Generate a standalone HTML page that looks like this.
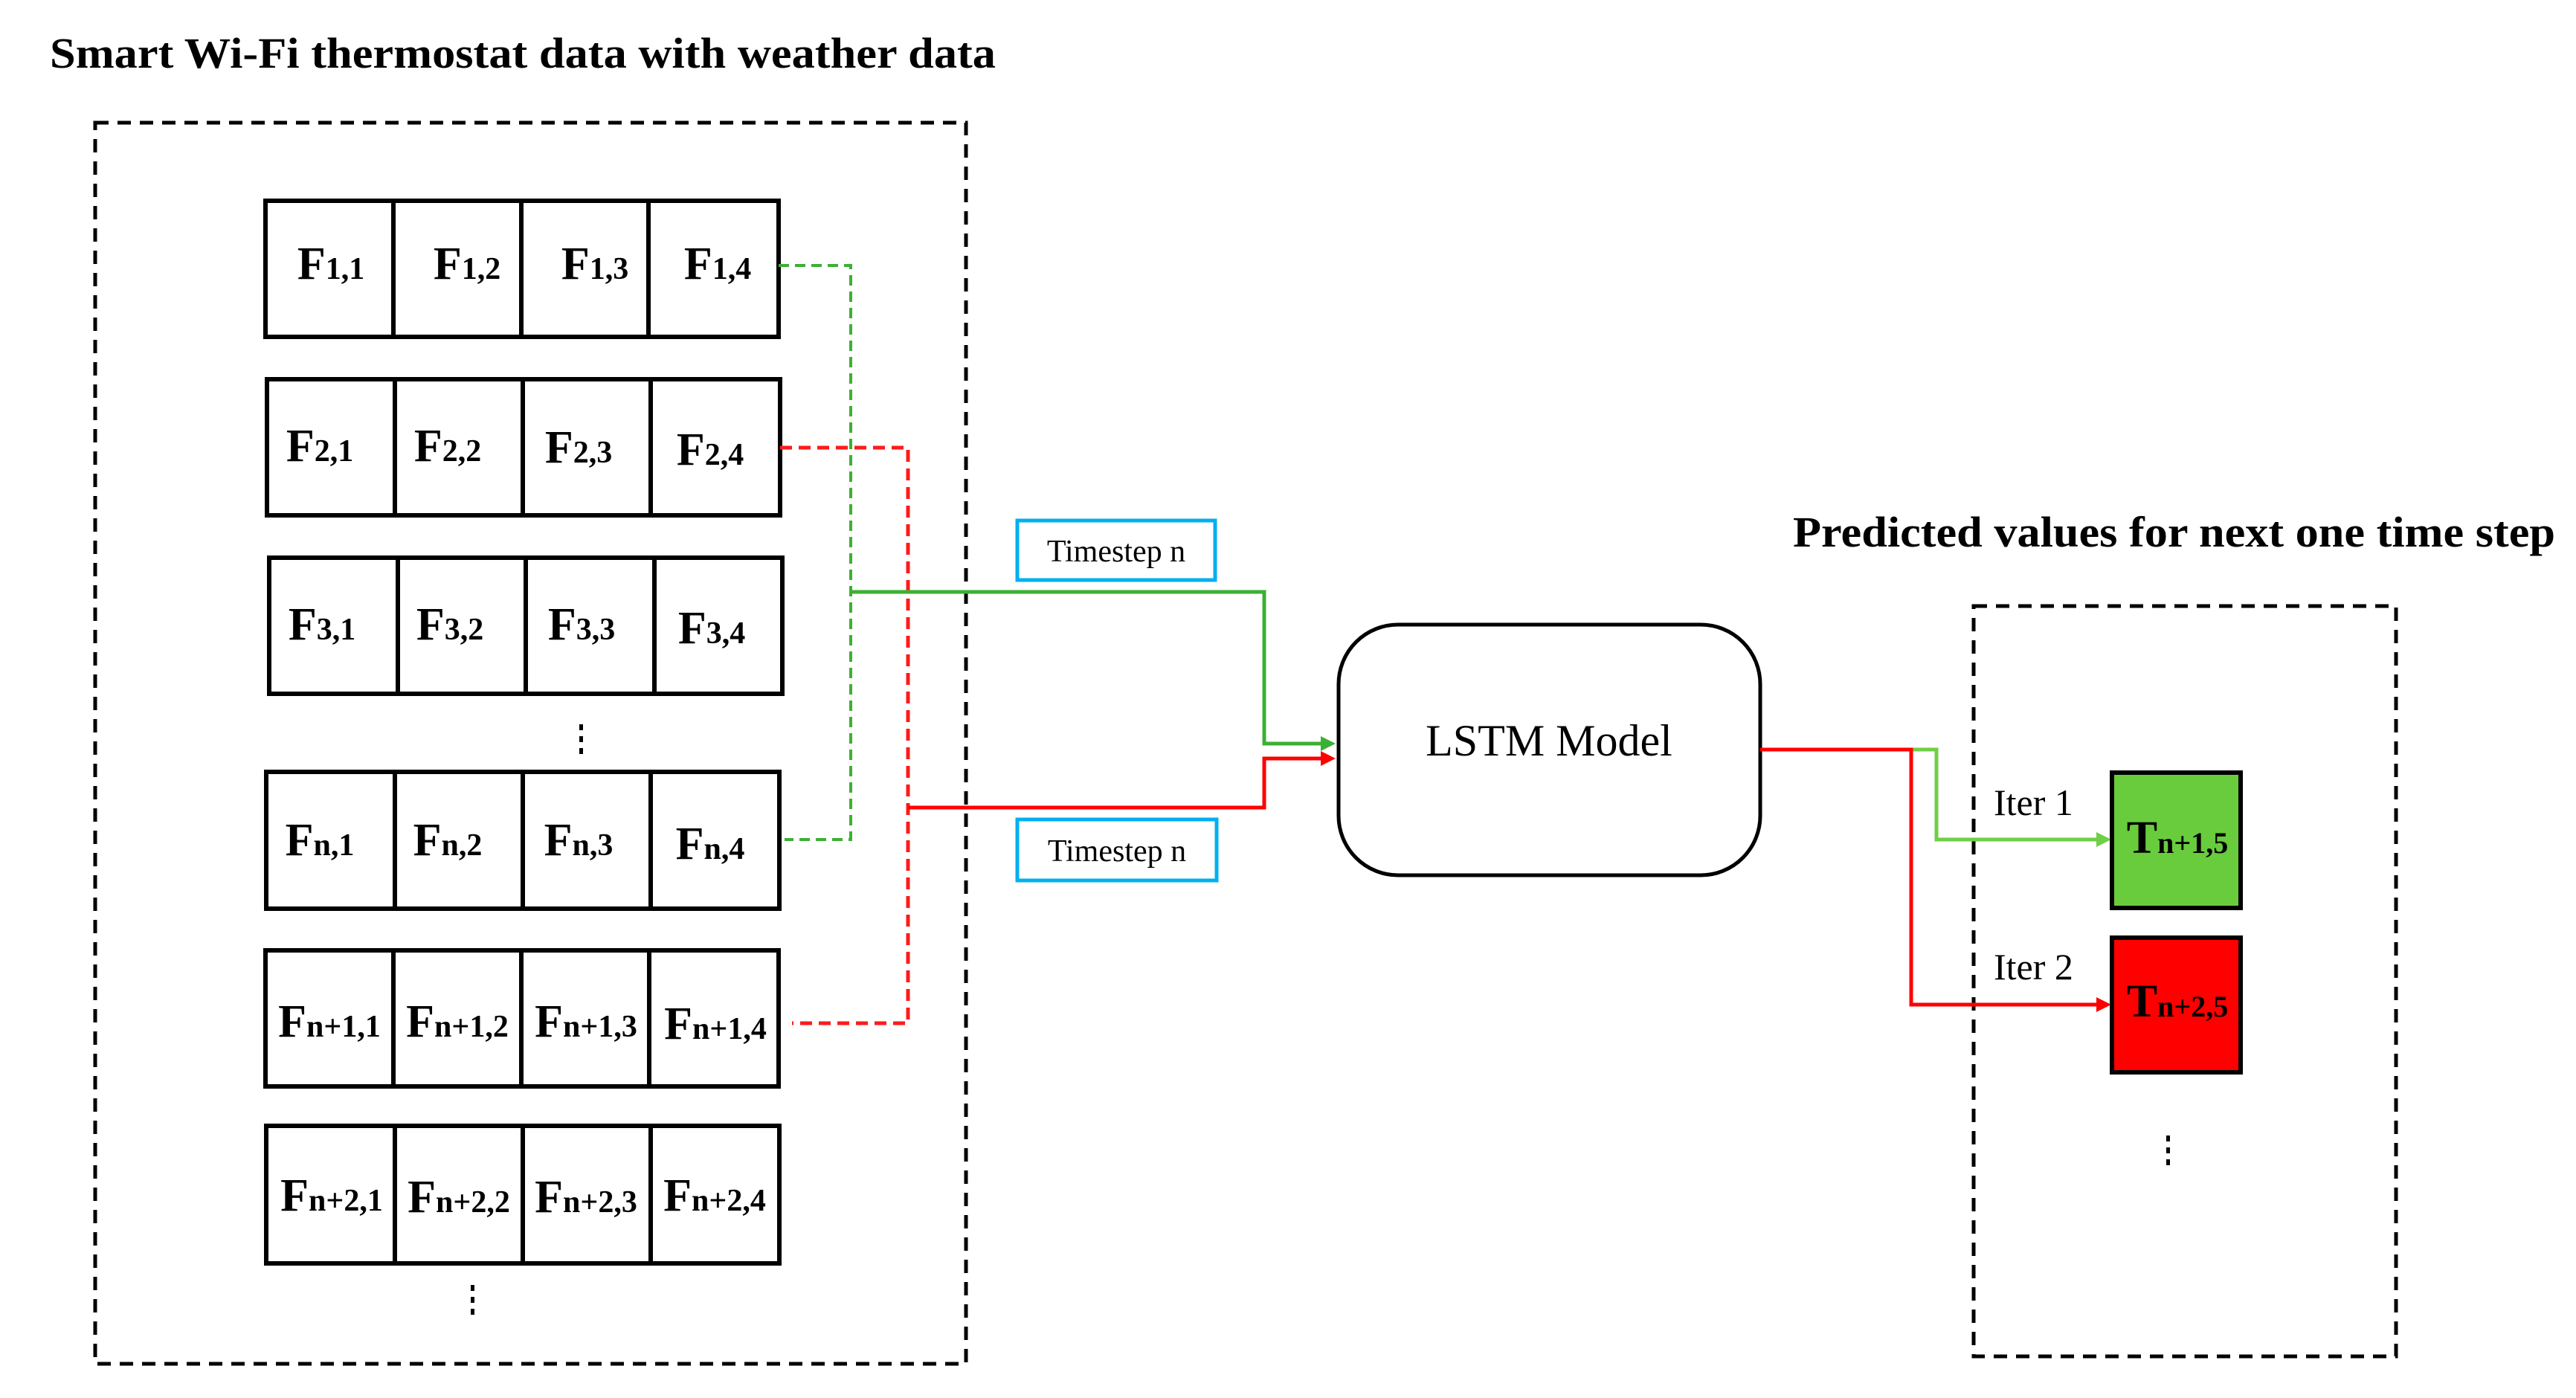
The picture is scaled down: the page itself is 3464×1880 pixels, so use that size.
<!DOCTYPE html>
<html><head><meta charset="utf-8"><style>html,body{margin:0;padding:0;background:#fff}svg{display:block}</style></head>
<body>
<svg width="3464" height="1880" viewBox="0 0 3464 1880" xmlns="http://www.w3.org/2000/svg" font-family="'Liberation Serif', serif">
<rect width="3464" height="1880" fill="#fff"/>
<text x="67" y="91" font-size="58" font-weight="bold" textLength="1272" lengthAdjust="spacingAndGlyphs">Smart Wi-Fi thermostat data with weather data</text>
<text x="2411" y="735" font-size="58" font-weight="bold" textLength="1025" lengthAdjust="spacingAndGlyphs">Predicted values for next one time step</text>

<rect x="128" y="165" width="1171" height="1669" fill="none" stroke="#000" stroke-width="5" stroke-dasharray="18,12"/>
<rect x="2654" y="815" width="568" height="1009" fill="none" stroke="#000" stroke-width="5" stroke-dasharray="18,12"/>

<g fill="none" stroke="#000" stroke-width="6">
<rect x="357" y="270" width="690" height="183"/>
<rect x="359" y="510" width="690" height="183"/>
<rect x="362" y="750" width="690" height="183"/>
<rect x="358" y="1038" width="690" height="184"/>
<rect x="357" y="1278" width="690" height="183"/>
<rect x="358" y="1514" width="690" height="185"/>
<path d="M529 270V453M701 270V453M872 270V453"/>
<path d="M531 510V693M703 510V693M875 510V693"/>
<path d="M535 750V933M707 750V933M880 750V933"/>
<path d="M531 1038V1222M703 1038V1222M875 1038V1222"/>
<path d="M529 1278V1461M701 1278V1461M873 1278V1461"/>
<path d="M531 1514V1699M703 1514V1699M875 1514V1699"/>
</g>

<g font-size="62" font-weight="bold" text-anchor="middle">
<text x="445" y="375">F<tspan font-size="42">1,1</tspan></text>
<text x="628" y="375">F<tspan font-size="42">1,2</tspan></text>
<text x="800" y="375">F<tspan font-size="42">1,3</tspan></text>
<text x="965" y="375">F<tspan font-size="42">1,4</tspan></text>
<text x="430" y="620">F<tspan font-size="42">2,1</tspan></text>
<text x="602" y="620">F<tspan font-size="42">2,2</tspan></text>
<text x="778" y="622">F<tspan font-size="42">2,3</tspan></text>
<text x="955" y="625">F<tspan font-size="42">2,4</tspan></text>
<text x="433" y="860">F<tspan font-size="42">3,1</tspan></text>
<text x="605" y="860">F<tspan font-size="42">3,2</tspan></text>
<text x="782" y="860">F<tspan font-size="42">3,3</tspan></text>
<text x="957" y="865">F<tspan font-size="42">3,4</tspan></text>
<text x="430" y="1150">F<tspan font-size="42">n,1</tspan></text>
<text x="602" y="1150">F<tspan font-size="42">n,2</tspan></text>
<text x="778" y="1150">F<tspan font-size="42">n,3</tspan></text>
<text x="955" y="1155">F<tspan font-size="42">n,4</tspan></text>
<text x="443" y="1394">F<tspan font-size="42">n+1,1</tspan></text>
<text x="615" y="1394">F<tspan font-size="42">n+1,2</tspan></text>
<text x="788" y="1394">F<tspan font-size="42">n+1,3</tspan></text>
<text x="962" y="1397">F<tspan font-size="42">n+1,4</tspan></text>
<text x="446" y="1628">F<tspan font-size="42">n+2,1</tspan></text>
<text x="617" y="1630">F<tspan font-size="42">n+2,2</tspan></text>
<text x="788" y="1630">F<tspan font-size="42">n+2,3</tspan></text>
<text x="961" y="1628">F<tspan font-size="42">n+2,4</tspan></text>
</g>

<g fill="#000">
<rect x="779" y="974" width="5" height="8"/><rect x="779" y="990" width="5" height="8"/><rect x="779" y="1006" width="5" height="8"/>
<rect x="633" y="1728" width="5" height="8"/><rect x="633" y="1744" width="5" height="8"/><rect x="633" y="1760" width="5" height="8"/>
<rect x="2913" y="1527" width="5" height="8"/><rect x="2913" y="1543" width="5" height="8"/><rect x="2913" y="1559" width="5" height="8"/>
</g>

<!-- dashed connectors -->
<path d="M1047 357H1144V1129H1055" fill="none" stroke="#3cb034" stroke-width="4" stroke-dasharray="14,8"/>
<path d="M1049 602H1221V1376H1065" fill="none" stroke="#ff1a1a" stroke-width="5" stroke-dasharray="16,9"/>
<!-- solid connectors -->
<path d="M1144 796H1700V1000H1780" fill="none" stroke="#3cb034" stroke-width="5"/>
<polygon points="1796,1000 1776,990 1776,1010" fill="#3cb034"/>
<path d="M1221 1086H1700V1020H1780" fill="none" stroke="#ff0000" stroke-width="5"/>
<polygon points="1796,1020 1776,1010 1776,1030" fill="#ff0000"/>

<rect x="1368" y="700" width="266" height="80" fill="#fff" stroke="#00b0f0" stroke-width="5"/>
<text x="1501" y="755" font-size="42" text-anchor="middle">Timestep n</text>
<rect x="1368" y="1102" width="268" height="82" fill="#fff" stroke="#00b0f0" stroke-width="5"/>
<text x="1502" y="1158" font-size="42" text-anchor="middle">Timestep n</text>

<rect x="1800" y="840" width="567" height="337" rx="80" fill="#fff" stroke="#000" stroke-width="5"/>
<text x="2083" y="1016" font-size="60" text-anchor="middle">LSTM Model</text>

<path d="M2367 1008H2604V1129H2822" fill="none" stroke="#6fcf45" stroke-width="5"/>
<polygon points="2839,1129 2819,1119 2819,1139" fill="#6fcf45"/>
<path d="M2367 1008H2570V1351H2822" fill="none" stroke="#ff0000" stroke-width="5"/>
<polygon points="2839,1351 2819,1341 2819,1361" fill="#ff0000"/>

<text x="2681" y="1096" font-size="50">Iter 1</text>
<text x="2681" y="1317" font-size="50">Iter 2</text>

<rect x="2840" y="1039" width="173" height="182" fill="#69cc3c" stroke="#000" stroke-width="6"/>
<text x="2928" y="1147" font-size="62" font-weight="bold" text-anchor="middle">T<tspan font-size="40">n+1,5</tspan></text>
<rect x="2840" y="1261" width="173" height="181" fill="#ff0000" stroke="#000" stroke-width="6"/>
<text x="2928" y="1367" font-size="62" font-weight="bold" text-anchor="middle">T<tspan font-size="40">n+2,5</tspan></text>
</svg>
</body></html>
